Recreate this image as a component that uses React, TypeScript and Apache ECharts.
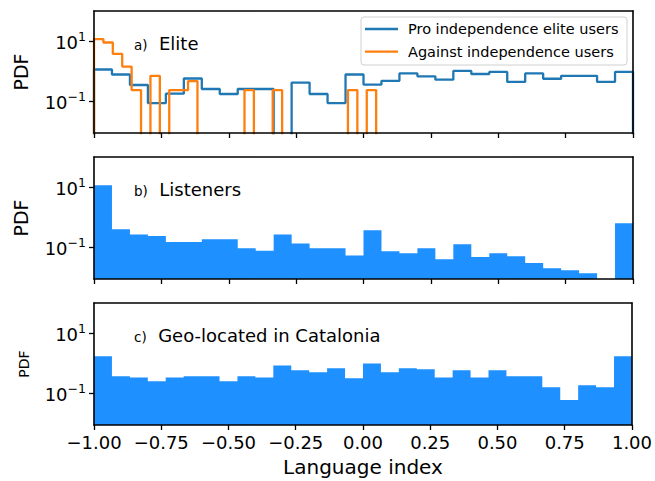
import React, { useEffect, useRef } from "react";
import * as echarts from "echarts";

// ---- data (PDF values, 30 bins each) ----
const xMin = -1;
const xMax = 1;
const againstMax = 0.047; // against-independence histogram spans its own data range
const nBins = 30;

const proEliteUsers = [
  1.12, 0.76, 0.34, 0.085, 0.174, 0.56, 0.25, 0.17, 0.25, 0.25,
  0, 0.41, 0.17, 0.085, 0.76, 0.35, 0.47, 0.83, 0.66, 0.51,
  1.0, 0.79, 0.93, 0.43, 0.83, 0.55, 0.69, 0.69, 0.43, 0.93,
];
const againstUsers = [
  11.5, 8.9, 3.7, 1.4, 0.23, 0, 0.69, 0, 0.23, 0.23,
  0.46, 0, 0, 0, 0, 0, 0.23, 0, 0, 0.23,
  0, 0, 0, 0, 0, 0, 0, 0.23, 0, 0.23,
];
const listeners = [
  11.5, 0.39, 0.26, 0.23, 0.145, 0.145, 0.18, 0.18, 0.091, 0.074,
  0.26, 0.13, 0.091, 0.091, 0.052, 0.36, 0.072, 0.062, 0.091, 0.039,
  0.123, 0.046, 0.062, 0.049, 0.029, 0.0195, 0.0166, 0.0132, 0, 0.62,
];
const catalonia = [
  1.66, 0.36, 0.33, 0.245, 0.33, 0.36, 0.36, 0.245, 0.36, 0.33,
  0.83, 0.575, 0.49, 0.66, 0.31, 0.95, 0.49, 0.66, 0.62, 0.33,
  0.575, 0.33, 0.575, 0.36, 0.36, 0.155, 0.058, 0.18, 0.155, 1.66,
];

const yTickPDF = [0.1, 10];
const yTickExponents = ["\u22121", "1"];
const panelTags = ["a)", "b)", "c)"];
const panelTitles = ["Elite", "Listeners", "Geo-located in Catalonia"];
const legendNames = ["Pro independence elite users", "Against independence users"];
const xAxisTitle = "Language index";
const yAxisTitle = "PDF";

// ---- helpers ----
const FONT = "DejaVu Sans";
const BLUE = "#1f77b4";
const ORANGE = "#ff7f0e";
const FILL = "#1E90FF";
const LOG_MIN = -2.07;
const LOG_MAX = 2.0;
const OFF = -5;

const toLog = (v: number) => (v > 0 ? Math.log10(v) : OFF);
const edges = (lo: number, hi: number, n: number) =>
  Array.from({ length: n + 1 }, (_, i) => lo + ((hi - lo) * i) / n);

function outline(values: number[], lo: number, hi: number) {
  const e = edges(lo, hi, values.length);
  const pts: number[][] = [[lo, OFF]];
  values.forEach((v, i) => pts.push([e[i], toLog(v)]));
  pts.push([hi, toLog(values[values.length - 1])]);
  pts.push([hi, OFF]);
  return pts;
}
function filled(values: number[], lo: number, hi: number) {
  const e = edges(lo, hi, values.length);
  const pts: number[][] = [];
  values.forEach((v, i) => pts.push([e[i], toLog(v)]));
  pts.push([hi, toLog(values[values.length - 1])]);
  return pts;
}

const GRID_LEFT = 94;
const GRID_W = 539;
const GRID_H = 122;
const gridTops = [11, 157, 303];

function buildOption() {
  const grid = gridTops.map((t) => ({ left: GRID_LEFT, top: t, width: GRID_W, height: GRID_H, show: false }));
  const xAxis: any[] = [];
  const yAxis: any[] = [];
  gridTops.forEach((_, p) => {
    xAxis.push({
      gridIndex: p,
      type: "value",
      min: xMin,
      max: xMax,
      interval: 0.25,
      z: 10,
      axisLine: { show: true, onZero: false, lineStyle: { color: "#000", width: 1.6 } },
      axisTick: { show: true, length: 5, lineStyle: { color: "#000", width: 1.3 } },
      axisLabel: {
        show: p === 2,
        showMinLabel: true,
        showMaxLabel: true,
        margin: 8,
        fontSize: 18,
        fontFamily: FONT,
        color: "#000",
        formatter: (v: number) => v.toFixed(2).replace("-", "\u2212"),
      },
      splitLine: { show: false },
      name: p === 2 ? xAxisTitle : "",
      nameLocation: "middle",
      nameGap: 32,
      nameTextStyle: { fontSize: 20, fontFamily: FONT, color: "#000" },
    });
    xAxis.push({
      gridIndex: p,
      type: "value",
      position: "top",
      min: xMin,
      max: xMax,
      z: 10,
      axisLine: { show: true, onZero: false, lineStyle: { color: "#000", width: 1.6 } },
      axisTick: { show: false },
      axisLabel: { show: false },
      splitLine: { show: false },
    });
    yAxis.push({
      gridIndex: p,
      type: "value",
      min: LOG_MIN,
      max: LOG_MAX,
      z: 10,
      axisLine: { show: true, onZero: false, lineStyle: { color: "#000", width: 1.6 } },
      axisTick: {
        show: true,
        length: 5,
        customValues: yTickPDF.map((v) => Math.log10(v)),
        lineStyle: { color: "#000", width: 1.3 },
      },
      axisLabel: {
        show: true,
        customValues: yTickPDF.map((v) => Math.log10(v)),
        margin: 8,
        fontFamily: FONT,
        color: "#000",
        formatter: (v: number) => `{b|10}{s|${yTickExponents[v < 0 ? 0 : 1]}}`,
        rich: {
          b: { fontSize: 18, fontFamily: FONT, color: "#000", lineHeight: 22, verticalAlign: "bottom" },
          s: { fontSize: 12.5, fontFamily: FONT, color: "#000", lineHeight: 12, verticalAlign: "top" },
        },
      },
      splitLine: { show: false },
      name: yAxisTitle,
      nameLocation: "middle",
      nameRotate: 90,
      nameGap: p === 2 ? 63 : 64,
      nameTextStyle: { fontSize: p === 2 ? 14 : 19, fontFamily: FONT, color: "#000" },
    });
    yAxis.push({
      gridIndex: p,
      type: "value",
      position: "right",
      min: LOG_MIN,
      max: LOG_MAX,
      z: 10,
      axisLine: { show: true, onZero: false, lineStyle: { color: "#000", width: 1.6 } },
      axisTick: { show: false },
      axisLabel: { show: false },
      splitLine: { show: false },
    });
  });

  const stepLine = (name: string, data: number[][], color: string, p: number) => ({
    name,
    type: "line",
    xAxisIndex: 2 * p,
    yAxisIndex: 2 * p,
    step: "end",
    data,
    symbol: "none",
    silent: true,
    clip: true,
    z: 2,
    lineStyle: { color, width: 2.3 },
  });
  const stepFill = (name: string, data: number[][], p: number) => ({
    name,
    type: "line",
    xAxisIndex: 2 * p,
    yAxisIndex: 2 * p,
    step: "end",
    data,
    symbol: "none",
    silent: true,
    clip: true,
    z: 2,
    lineStyle: { width: 0, opacity: 0 },
    areaStyle: { color: FILL, opacity: 1, origin: "start" },
  });

  const series = [
    stepLine(legendNames[0], outline(proEliteUsers, xMin, xMax), BLUE, 0),
    stepLine(legendNames[1], outline(againstUsers, xMin, againstMax), ORANGE, 0),
    stepFill(panelTitles[1], filled(listeners, xMin, xMax), 1),
    stepFill(panelTitles[2], filled(catalonia, xMin, xMax), 2),
  ];

  const graphic: any[] = [];
  gridTops.forEach((t, p) => {
    graphic.push({
      type: "text",
      left: 134,
      top: t + 23,
      z: 100,
      style: {
        text: `{a|${panelTags[p]}}{b|  ${panelTitles[p]}}`,
        fill: "#000",
        rich: {
          a: { fontSize: 13.5, fontFamily: FONT, fill: "#000", verticalAlign: "bottom" },
          b: { fontSize: 18, fontFamily: FONT, fill: "#000", verticalAlign: "bottom" },
        },
      },
    });
  });
  // legend
  const lgX = 361, lgY = 17, lgW = 266, lgH = 48;
  graphic.push({
    type: "rect",
    z: 100,
    shape: { x: lgX, y: lgY, width: lgW, height: lgH, r: 3 },
    style: { fill: "rgba(255,255,255,0.8)", stroke: "#d0d0d0", lineWidth: 1 },
  });
  [BLUE, ORANGE].forEach((c, i) => {
    const y = lgY + 12 + i * 22.7;
    graphic.push({
      type: "line",
      z: 101,
      shape: { x1: lgX + 4, y1: y, x2: lgX + 37, y2: y },
      style: { stroke: c, lineWidth: 2.3 },
    });
    graphic.push({
      type: "text",
      z: 101,
      x: lgX + 47,
      y,
      style: {
        text: legendNames[i],
        fontSize: 14.5,
        fontFamily: FONT,
        fill: "#000",
        verticalAlign: "middle",
        align: "left",
      },
    });
  });

  return {
    animation: false,
    backgroundColor: "#fff",
    textStyle: { fontFamily: FONT },
    grid,
    xAxis,
    yAxis,
    series,
    graphic,
  };
}

export default function App() {
  const ref = useRef<HTMLDivElement>(null);
  useEffect(() => {
    if (!ref.current) return;
    const chart = echarts.init(ref.current, null, { renderer: "svg" });
    chart.setOption(buildOption() as any);
    return () => chart.dispose();
  }, []);
  return (
    <div
      ref={ref}
      style={{ position: "fixed", left: 0, top: 0, width: 655, height: 481 }}
    />
  );
}
